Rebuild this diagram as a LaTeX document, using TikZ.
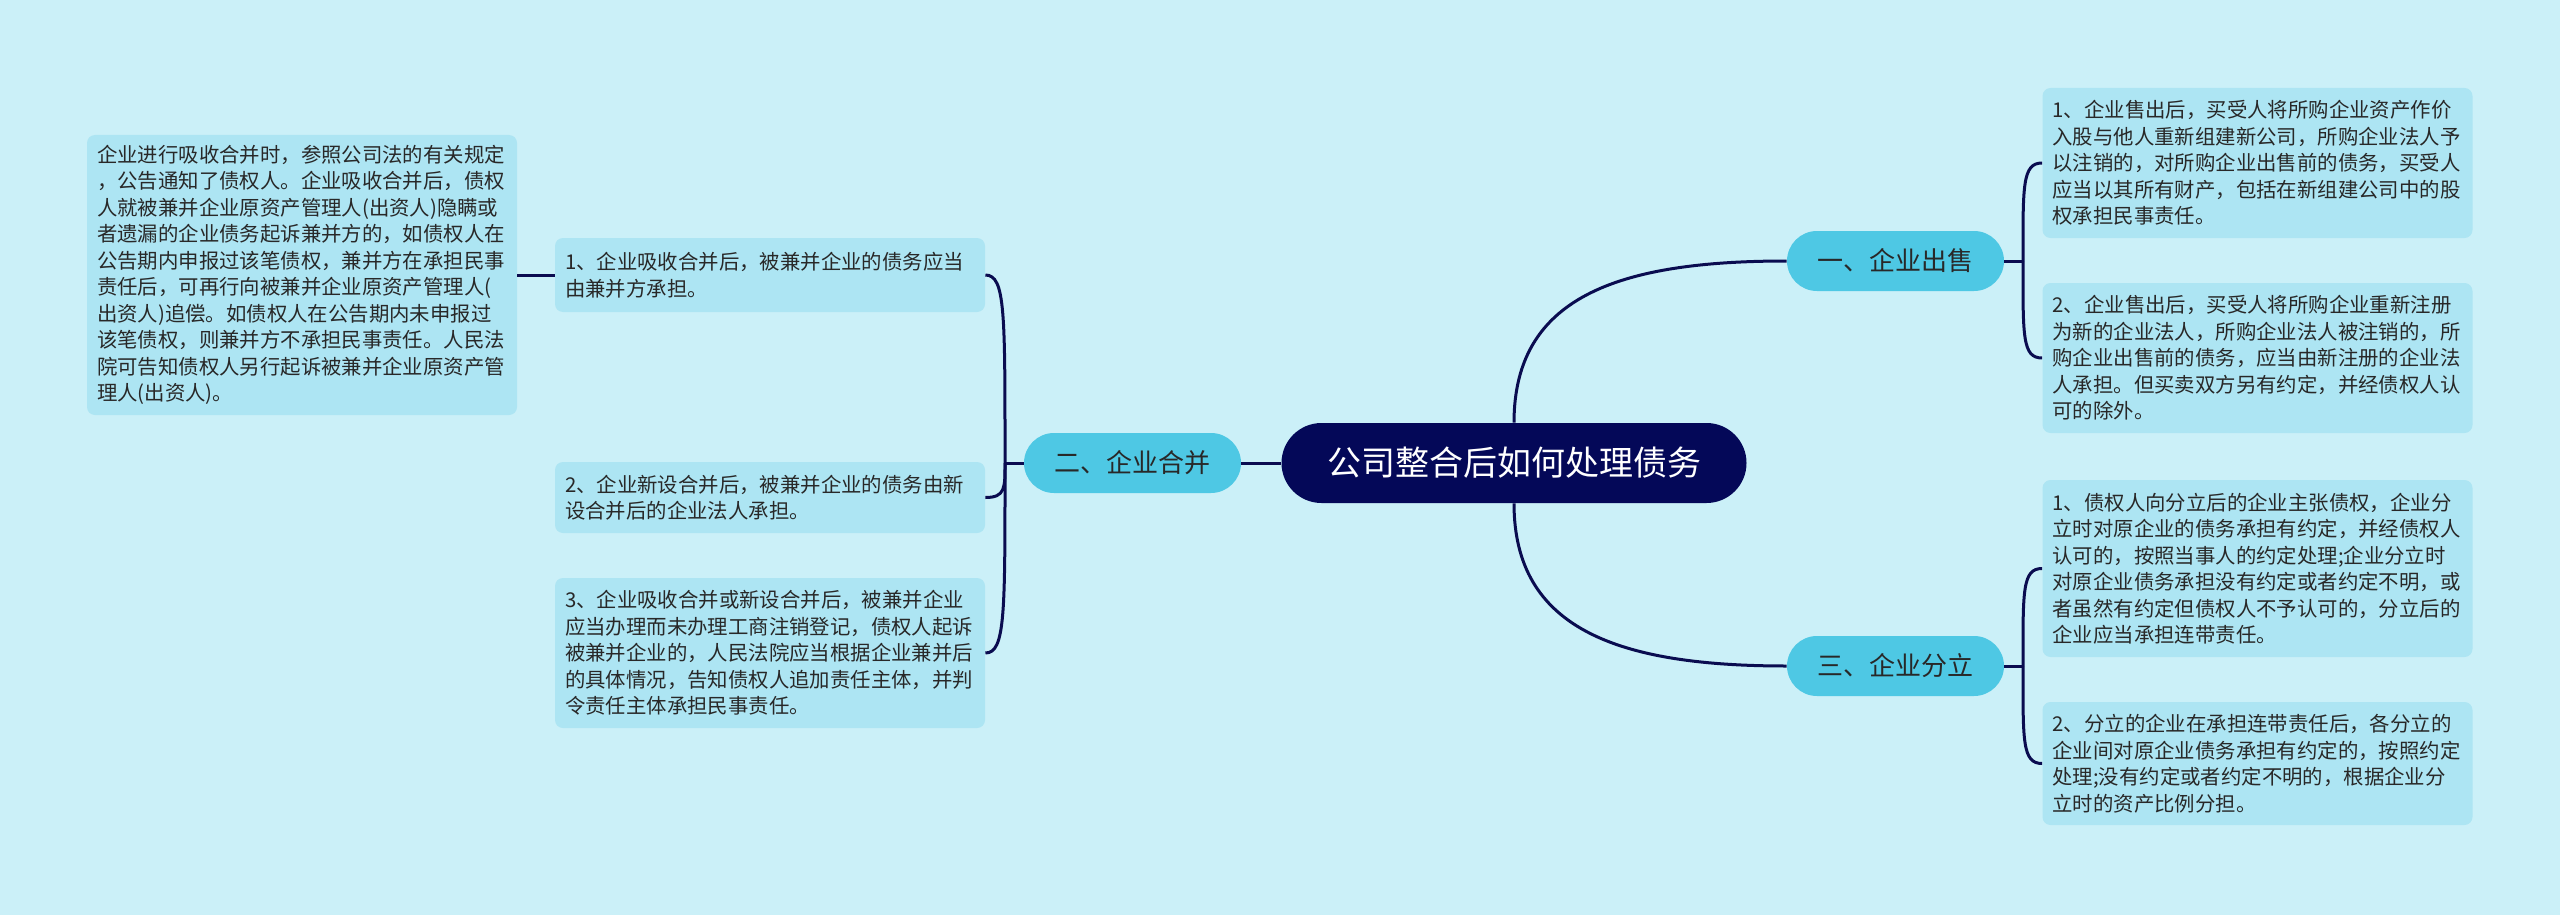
\documentclass[tikz,border=0pt]{standalone}
\usepackage{fontspec}
\setmainfont{Noto Sans CJK SC}
\usetikzlibrary{shapes.misc}
\definecolor{bgc}{RGB}{203,240,248}
\definecolor{leafc}{RGB}{173,229,243}
\definecolor{branchc}{RGB}{78,200,228}
\definecolor{rootc}{RGB}{4,8,88}
\definecolor{linec}{RGB}{10,12,80}
\definecolor{txtc}{RGB}{40,40,40}
\tikzset{
  leaf/.style={draw=none,fill=leafc,rounded corners=4pt,inner xsep=5pt,inner ysep=0pt,
    text width=205pt,align=left,text=txtc,font=\fontsize{10.2pt}{13.25pt}\selectfont,anchor=center},
  branch/.style={rounded rectangle,fill=branchc,draw=none,minimum width=108.5pt,minimum height=30pt,
    text=txtc,font=\fontsize{13pt}{15pt}\selectfont,anchor=center,inner sep=0pt},
  rootnode/.style={rounded rectangle,fill=rootc,draw=none,minimum width=232.5pt,minimum height=40pt,
    text=white,font=\fontsize{17pt}{20pt}\selectfont,anchor=center,inner sep=0pt},
  conn/.style={draw=linec,line width=1.5pt}
}
\begin{document}
\begin{tikzpicture}[x=0.5pt,y=-0.5pt]
\useasboundingbox (0,0) rectangle (2560,915);
\fill[bgc] (0,0) rectangle (2560,915);

\node[rootnode] (root) at (1514,463) {公司整合后如何处理债务};
\node[branch] (sell) at (1895.5,261) {一、企业出售};
\node[branch] (split) at (1895.5,666) {三、企业分立};
\node[branch] (merge) at (1132.5,463) {二、企业合并};

\node[leaf,minimum height=140pt] (big) at (302,275) {企业进行吸收合并时，参照公司法的有关规定\\，公告通知了债权人。企业吸收合并后，债权\\人就被兼并企业原资产管理人(出资人)隐瞒或\\者遗漏的企业债务起诉兼并方的，如债权人在\\公告期内申报过该笔债权，兼并方在承担民事\\责任后，可再行向被兼并企业原资产管理人(\\出资人)追偿。如债权人在公告期内未申报过\\该笔债权，则兼并方不承担民事责任。人民法\\院可告知债权人另行起诉被兼并企业原资产管\\理人(出资人)。};
\node[leaf,minimum height=37pt] (l1) at (770,275) {1、企业吸收合并后，被兼并企业的债务应当\\由兼并方承担。};
\node[leaf,minimum height=35.5pt] (l2) at (770,497.5) {2、企业新设合并后，被兼并企业的债务由新\\设合并后的企业法人承担。};
\node[leaf,minimum height=75pt] (l3) at (770,653) {3、企业吸收合并或新设合并后，被兼并企业\\应当办理而未办理工商注销登记，债权人起诉\\被兼并企业的，人民法院应当根据企业兼并后\\的具体情况，告知债权人追加责任主体，并判\\令责任主体承担民事责任。};

\node[leaf,minimum height=75pt] (r1) at (2257.5,163) {1、企业售出后，买受人将所购企业资产作价\\入股与他人重新组建新公司，所购企业法人予\\以注销的，对所购企业出售前的债务，买受人\\应当以其所有财产，包括在新组建公司中的股\\权承担民事责任。};
\node[leaf,minimum height=75pt] (r2) at (2257.5,358) {2、企业售出后，买受人将所购企业重新注册\\为新的企业法人，所购企业法人被注销的，所\\购企业出售前的债务，应当由新注册的企业法\\人承担。但买卖双方另有约定，并经债权人认\\可的除外。};
\node[leaf,minimum height=88.5pt] (r3) at (2257.5,568.5) {1、债权人向分立后的企业主张债权，企业分\\立时对原企业的债务承担有约定，并经债权人\\认可的，按照当事人的约定处理;企业分立时\\对原企业债务承担没有约定或者约定不明，或\\者虽然有约定但债权人不予认可的，分立后的\\企业应当承担连带责任。};
\node[leaf,minimum height=61.5pt] (r4) at (2257.5,763.5) {2、分立的企业在承担连带责任后，各分立的\\企业间对原企业债务承担有约定的，按照约定\\处理;没有约定或者约定不明的，根据企业分\\立时的资产比例分担。};

\coordinate (jl) at (1005,463);
\coordinate (jr1) at (2023,261);
\coordinate (jr2) at (2023,666);

% root connectors
\draw[conn] (root.north) .. controls +(0,-125) and +(-170,0) .. (sell.west);
\draw[conn] (root.south) .. controls +(0,125) and +(-170,0) .. (split.west);
\draw[conn] (root.west) -- (merge.east);

% left brackets
\draw[conn] (merge.west) -- (jl);
\draw[conn] (jl) .. controls +(0,-150) and +(20,0) .. (l1.east);
\draw[conn] (jl) .. controls +(0,25) and +(20,0) .. (l2.east);
\draw[conn] (jl) .. controls +(0,150) and +(20,0) .. (l3.east);
\draw[conn] (l1.west) -- (big.east);

% right brackets
\draw[conn] (sell.east) -- (jr1);
\draw[conn] (jr1) .. controls +(0,-75) and +(-20,0) .. (r1.west);
\draw[conn] (jr1) .. controls +(0,75) and +(-20,0) .. (r2.west);
\draw[conn] (split.east) -- (jr2);
\draw[conn] (jr2) .. controls +(0,-75) and +(-20,0) .. (r3.west);
\draw[conn] (jr2) .. controls +(0,75) and +(-20,0) .. (r4.west);
\end{tikzpicture}
\end{document}
